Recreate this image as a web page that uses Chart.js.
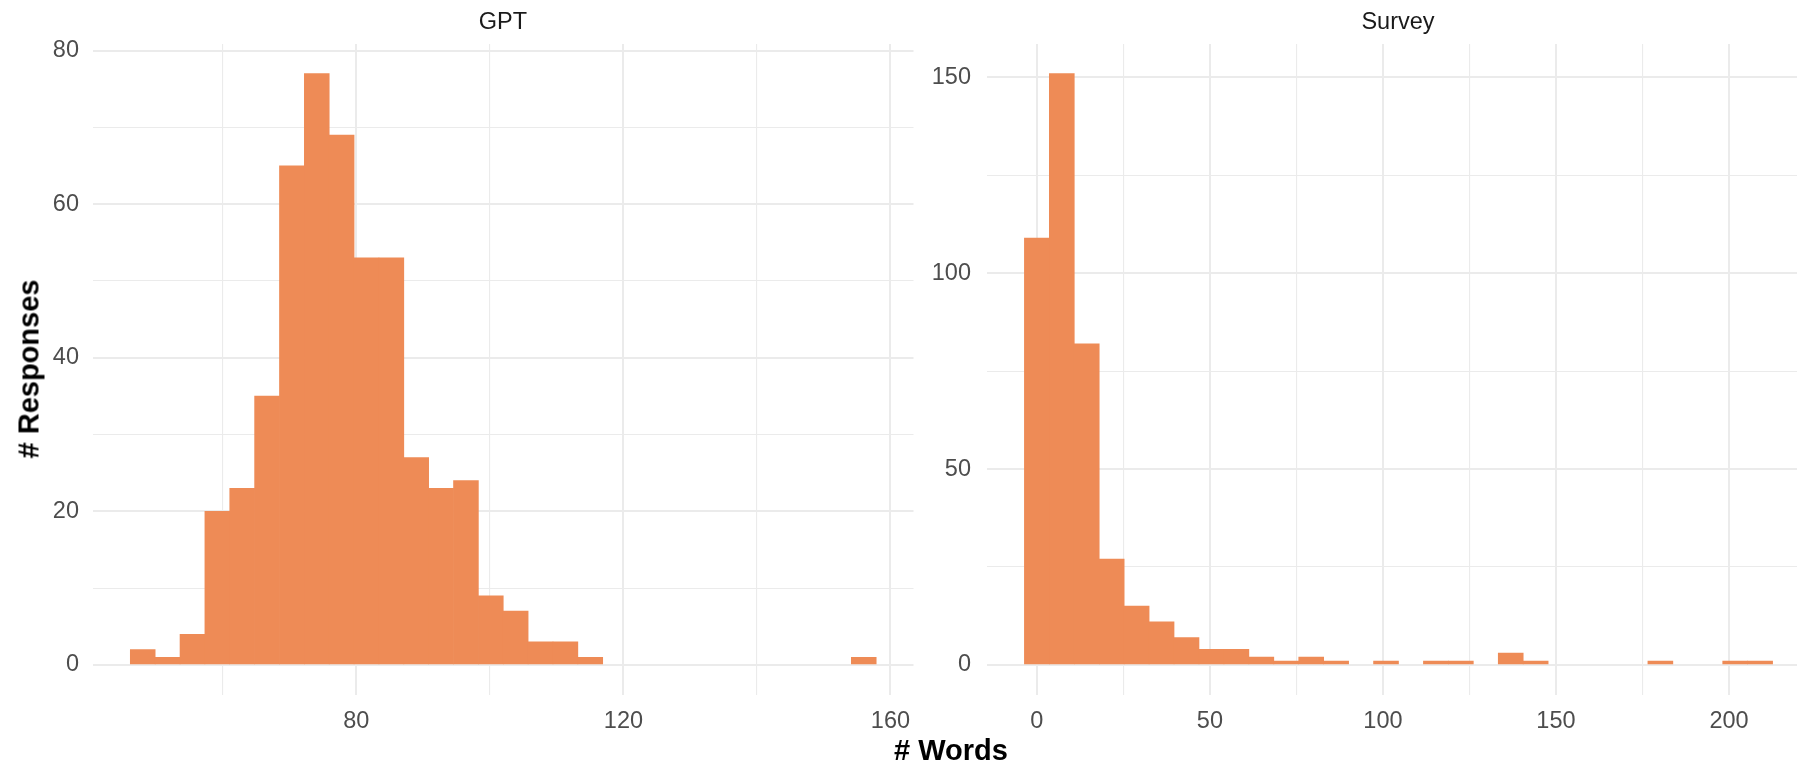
<!DOCTYPE html>
<html>
<head>
<meta charset="utf-8">
<script src="https://cdn.jsdelivr.net/npm/chart.js@4.4.1/dist/chart.umd.min.js"></script>
<style>
  html, body { margin: 0; padding: 0; background: #fff; overflow: hidden; }
  body { width: 1797px; height: 764px; position: relative; font-family: 'Liberation Sans', Arial, sans-serif; }
  canvas { position: absolute; top: 0; }
  .txt { position: absolute; transform: translate(-50%, -50%); white-space: nowrap; }
  .strip { font-size: 23.5px; color: #1a1a1a; }
  .axtitle { font-size: 29px; font-weight: bold; color: #000; }
</style>
</head>
<body>
<canvas id="gpt" width="940" height="764" style="left:0px;width:940px;height:764px"></canvas>
<canvas id="survey" width="960" height="764" style="left:880px;width:960px;height:764px"></canvas>
<div class="txt strip" style="left:503px;top:21px">GPT</div>
<div class="txt strip" style="left:1398px;top:21px">Survey</div>
<div class="txt axtitle" style="left:951px;top:750px"># Words</div>
<div class="txt axtitle" style="left:29px;top:369px;transform:translate(-50%,-50%) rotate(-90deg)"># Responses</div>
<script>
// histogram counts, 30 bins each
const gptCounts = [2, 1, 4, 20, 23, 35, 65, 77, 69, 53, 53, 27, 23, 24, 9, 7, 3, 3, 1, 0,
                   0, 0, 0, 0, 0, 0, 0, 0, 0, 1];
const surveyCounts = [109, 151, 82, 27, 15, 11, 7, 4, 4, 2, 1, 2, 1, 0, 1, 0, 1, 1, 0, 3,
                      1, 0, 0, 0, 0, 1, 0, 0, 1, 1];

// word-count range covered by the bin centres
const gptRange = [48, 156];
const surveyRange = [0, 209];

// tick labels
const gptXTicks = [80, 120, 160];
const gptXMinor = [60, 100, 140];
const gptYTicks = [0, 20, 40, 60, 80];
const gptYMinor = [10, 30, 50, 70];
const surveyXTicks = [0, 50, 100, 150, 200];
const surveyXMinor = [25, 75, 125, 175];
const surveyYTicks = [0, 50, 100, 150];
const surveyYMinor = [25, 75, 125];

const BAR_COLOR = '#EE8B56';
const GRID = '#ebebeb';
const TICK_FONT = { family: "'Liberation Sans', Arial, sans-serif", size: 23.5 };

// empty bins are left out so no sliver gets drawn on the baseline
function binCenters(range, counts) {
  const w = (range[1] - range[0]) / (counts.length - 1);
  return counts.map((c, i) => ({ x: range[0] + i * w, y: c })).filter(p => p.y > 0);
}

function makePanel(id, opts) {
  const ctx = document.getElementById(id).getContext('2d');
  const majX = new Set(opts.xTicks), majY = new Set(opts.yTicks);
  return new Chart(ctx, {
    type: 'bar',
    data: {
      datasets: [{
        data: binCenters(opts.range, opts.counts),
        backgroundColor: BAR_COLOR,
        borderWidth: 0,
        barPercentage: 1,
        categoryPercentage: 1
      }]
    },
    options: {
      responsive: false,
      animation: false,
      devicePixelRatio: 1,
      layout: { padding: { left: 0, right: opts.padRight, top: 44, bottom: 0 } },
      plugins: { legend: { display: false }, tooltip: { enabled: false } },
      scales: {
        x: {
          type: 'linear',
          offset: false,
          min: opts.xMin,
          max: opts.xMax,
          afterBuildTicks: s => {
            s.ticks = opts.xTicks.concat(opts.xMinor).sort((a, b) => a - b).map(v => ({ value: v }));
          },
          afterFit: s => { s.height = 764 - 694.5; },
          grid: {
            offset: false,
            color: GRID,
            lineWidth: c => (c.tick && majX.has(c.tick.value)) ? 2 : 1.1,
            drawTicks: false
          },
          border: { display: false },
          ticks: {
            autoSkip: false,
            maxRotation: 0,
            padding: 13,
            color: '#4d4d4d',
            font: TICK_FONT,
            callback: v => majX.has(v) ? String(v) : ''
          }
        },
        y: {
          type: 'linear',
          min: opts.yMin,
          max: opts.yMax,
          afterBuildTicks: s => {
            s.ticks = opts.yTicks.concat(opts.yMinor).sort((a, b) => a - b).map(v => ({ value: v }));
          },
          afterFit: s => { s.width = opts.yWidth; },
          grid: {
            color: GRID,
            lineWidth: c => (c.tick && majY.has(c.tick.value)) ? 2 : 1.1,
            drawTicks: false
          },
          border: { display: false },
          ticks: {
            autoSkip: false,
            padding: opts.yPad,
            color: '#4d4d4d',
            font: TICK_FONT,
            callback: v => majY.has(v) ? String(v) : ''
          }
        }
      }
    }
  });
}

makePanel('gpt', {
  counts: gptCounts, range: gptRange,
  xMin: 40.55, xMax: 163.45, yMin: -3.85, yMax: 80.85,
  xTicks: gptXTicks, xMinor: gptXMinor, yTicks: gptYTicks, yMinor: gptYMinor,
  yWidth: 93, yPad: 14, padRight: 26.5
});

makePanel('survey', {
  counts: surveyCounts, range: surveyRange,
  xMin: -14.41, xMax: 223.41, yMin: -7.55, yMax: 158.55,
  xTicks: surveyXTicks, xMinor: surveyXMinor, yTicks: surveyYTicks, yMinor: surveyYMinor,
  yWidth: 107, yPad: 16, padRight: 30
});
</script>
</body>
</html>
